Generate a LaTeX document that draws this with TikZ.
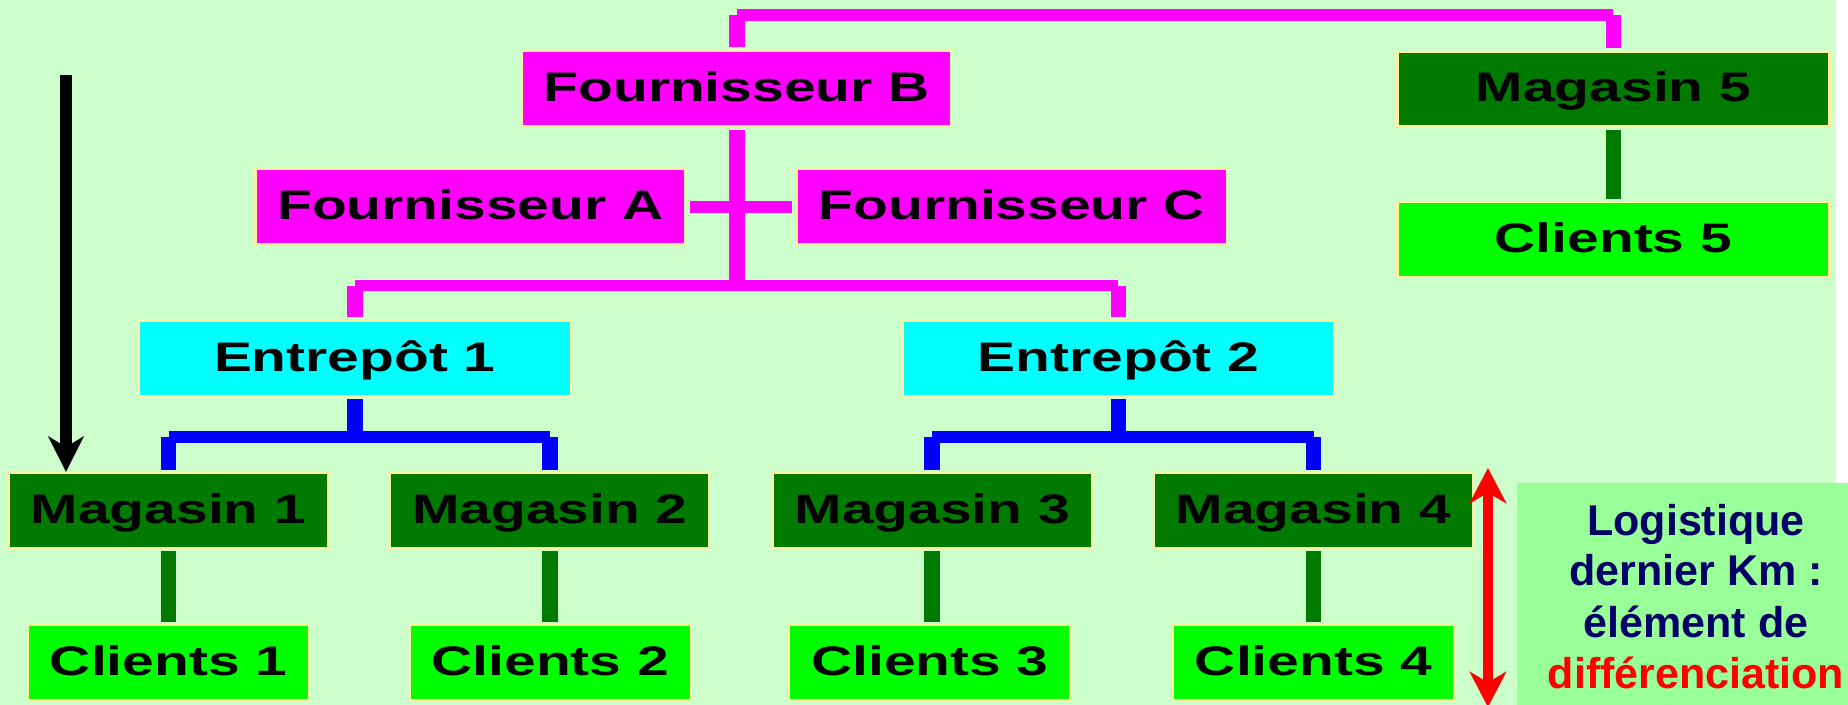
\documentclass[tikz,border=0pt]{standalone}
\usepackage{fontspec}
\setmainfont{Liberation Sans}
\newfontfamily\boxfont{Liberation Sans}[FakeStretch=1.38]
\usetikzlibrary{arrows.meta}
\definecolor{bg}{RGB}{204,255,204}
\definecolor{logibg}{RGB}{153,255,153}
\definecolor{boxedge}{RGB}{255,240,160}
\definecolor{magc}{RGB}{255,0,255}
\definecolor{cyanc}{RGB}{0,255,255}
\definecolor{darkg}{RGB}{0,122,0}
\definecolor{lightg}{RGB}{0,255,0}
\definecolor{bluec}{RGB}{0,0,255}
\definecolor{navy}{RGB}{0,0,102}
\definecolor{redc}{RGB}{255,0,0}
\tikzset{
  box/.style={draw=boxedge, line width=1.8pt, minimum height=63.5pt, inner sep=0pt,
    text height=25pt, text depth=3pt, text=black,
    font=\boxfont\bfseries\fontsize{35}{40}\selectfont},
  fourn/.style={box, fill=magc, minimum width=364.5pt},
  entre/.style={box, fill=cyanc, minimum width=366.5pt},
  maga/.style={box, fill=darkg, minimum width=270.5pt},
  magabig/.style={box, fill=darkg, minimum width=366.5pt},
  cli/.style={box, fill=lightg, minimum width=238.5pt},
  clibig/.style={box, fill=lightg, minimum width=366.5pt},
  vline/.style={line width=13.5pt},
  hline/.style={line width=9.8pt},
  logitext/.style={anchor=base, inner sep=0pt, text=navy,
    font=\bfseries\fontsize{36.5}{40}\selectfont},
  tip/.style={-{Stealth[length=30pt,width=30pt,inset=9pt]}},
  tips/.style={{Stealth[length=30pt,width=31pt,inset=9pt]}-{Stealth[length=30pt,width=31pt,inset=9pt]}}
}
\begin{document}
\begin{tikzpicture}[x=1pt,y=-1pt]
\useasboundingbox (0,0) rectangle (1568,598);
\fill[bg] (0,0) rectangle (1558,598);
\fill[white] (1558,0) rectangle (1568,598);

% nodes
\node[fourn] (FB) at (625,75) {Fournisseur B};
\node[fourn] (FA) at (399,175.5) {Fournisseur A};
\node[fourn] (FC) at (858.5,175.5) {Fournisseur C};
\node[magabig] (M5) at (1369,75.5) {Magasin 5};
\node[clibig] (C5) at (1369,203.5) {Clients 5};
\node[entre] (E1) at (301,304) {Entrep\^ot 1};
\node[entre] (E2) at (949,304) {Entrep\^ot 2};
\node[maga] (M1) at (143,433) {Magasin 1};
\node[maga] (M2) at (466.5,433) {Magasin 2};
\node[maga] (M3) at (791,433) {Magasin 3};
\node[maga] (M4) at (1114.5,433) {Magasin 4};
\node[cli] (C1) at (143,562) {Clients 1};
\node[cli] (C2) at (467,562) {Clients 2};
\node[cli] (C3) at (789,562) {Clients 3};
\node[cli] (C4) at (1114.5,562) {Clients 4};

% bars
\coordinate (topbar) at (0,12.7);
\coordinate (midbar) at (0,242.4);
\coordinate (bar1) at (0,371);
\coordinate (bar2) at (0,371);

% magenta connectors
\draw[magc,vline,shorten <=2.5pt] (FB.north) -- (FB.north |- topbar);
\draw[magc,hline] (FB.north |- topbar) -- (M5.north |- topbar);
\draw[magc,vline,shorten >=2.5pt] (M5.north |- topbar) -- (M5.north);
\draw[magc,vline,shorten <=3pt] (FB.south) -- (FB.south |- midbar);
\draw[magc,hline] (E1.north |- midbar) -- (E2.north |- midbar);
\draw[magc,vline,shorten >=2pt] (E1.north |- midbar) -- (E1.north);
\draw[magc,vline,shorten >=2pt] (E2.north |- midbar) -- (E2.north);
\draw[magc,hline,shorten <=3pt,shorten >=3pt] (FA.east) -- (FC.west);

% blue connectors
\draw[bluec,vline,shorten <=2pt] (E1.south) -- (E1.south |- bar1);
\draw[bluec,hline] (M1.north |- bar1) -- (M2.north |- bar1);
\draw[bluec,vline,shorten >=1.5pt] (M1.north |- bar1) -- (M1.north);
\draw[bluec,vline,shorten >=1.5pt] (M2.north |- bar1) -- (M2.north);
\draw[bluec,vline,shorten <=2pt] (E2.south) -- (E2.south |- bar2);
\draw[bluec,hline] (M3.north |- bar2) -- (M4.north |- bar2);
\draw[bluec,vline,shorten >=1.5pt] (M3.north |- bar2) -- (M3.north);
\draw[bluec,vline,shorten >=1.5pt] (M4.north |- bar2) -- (M4.north);

% green connectors
\draw[darkg,vline,shorten <=2pt,shorten >=2pt] (M1.south) -- (M1.south |- C1.north);
\draw[darkg,vline,shorten <=2pt,shorten >=2pt] (M2.south) -- (M2.south |- C2.north);
\draw[darkg,vline,shorten <=2pt,shorten >=2pt] (M3.south) -- (M3.south |- C3.north);
\draw[darkg,vline,shorten <=2pt,shorten >=2pt] (M4.south) -- (M4.south |- C4.north);
\draw[darkg,vline,shorten <=2pt,shorten >=2pt] (M5.south) -- (M5.south |- C5.north);

% black arrow
\coordinate (arrtop) at (56,63.6);
\draw[black,line width=10pt,tip] (arrtop) -- (arrtop |- M1.north);

% red double arrow
\coordinate (rtop) at (1262.5,397);
\coordinate (rbot) at (1262.5,600);
\draw[redc,line width=9pt,tips] (rtop) -- (rbot);

% logistique box
\node[fill=logibg, inner sep=0pt, minimum width=281pt, minimum height=190pt, anchor=north west] (logi) at (1287,410) {};
\node[logitext] (l1) at (1439,454) {Logistique};
\node[logitext] (l2) at (1439,497) {dernier Km :};
\node[logitext] (l3) at (1439,540.5) {élément de};
\node[logitext,text=redc] (l4) at (1439,584) {différenciation};
\end{tikzpicture}
\end{document}
